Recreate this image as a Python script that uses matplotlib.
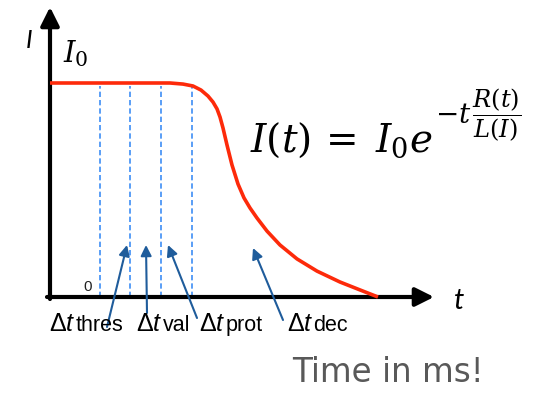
import numpy as np
import matplotlib
matplotlib.use("Agg")
import matplotlib.pyplot as plt

# current curve (t in ms-ish units, I relative to I0)
t_curve = [0.0, 3.636, 4.030, 4.333, 4.576, 4.788, 4.939, 5.061, 5.152, 5.242,
           5.364, 5.515, 5.697, 5.879, 6.061, 6.273, 6.576, 6.970, 7.485,
           8.091, 8.788, 9.394, 9.939]
i_curve = [1.0, 1.0, 0.995, 0.986, 0.967, 0.939, 0.911, 0.879, 0.841, 0.790,
           0.710, 0.617, 0.528, 0.463, 0.416, 0.369, 0.308, 0.243, 0.178,
           0.121, 0.070, 0.033, 0.0]

# dashed phase boundaries
t_marks = [1.52, 2.42, 3.36, 4.30]

# phase label suffixes
phase_names = ["thres", "val", "prot", "dec"]

plt.rcParams["mathtext.fontset"] = "custom"
plt.rcParams["mathtext.rm"] = "Liberation Sans"
plt.rcParams["mathtext.it"] = "Liberation Sans:italic"

W, H = 550, 393
fig = plt.figure(figsize=(W / 100, H / 100), dpi=100)
ax = fig.add_axes([0, 0, 1, 1])

# pixel -> data helpers (origin at px (50, 297))
sx, sy = 33.0, 214.0
def px(x, y):
    return ((x - 50) / sx, (297 - y) / sy)

ax.set_xlim(px(0, 0)[0], px(W, 0)[0])
ax.set_ylim(px(0, H)[1], px(0, 0)[1])
ax.axis("off")

# axes with arrow heads
arrow_kw = dict(arrowstyle="-|>", lw=3.0, color="black", mutation_scale=28,
                shrinkA=0, shrinkB=0)
ax.annotate("", xy=px(434, 297), xytext=px(47, 297), arrowprops=arrow_kw)
ax.annotate("", xy=px(50, 7), xytext=px(50, 299), arrowprops=arrow_kw)

# dashed lines
ax.vlines(t_marks, 0, 0.985, colors="#3d8ef5", lw=1.2,
          linestyles=(0, (3.2, 1.8)), zorder=2)

# curve
ax.plot(t_curve, i_curve, color="#fd2a0a", lw=2.6, solid_capstyle="butt",
        solid_joinstyle="round", zorder=3)

# labels on axes
ax.text(*px(26, 48), "I", fontsize=18, family="Lato", style="italic",
        va="baseline", ha="left")
ax.text(*px(454, 309), "t", fontsize=21, family="Lato", style="italic",
        va="baseline", ha="left")
ax.text(*px(83, 291), "0", fontsize=11, family="Liberation Sans",
        color="#222222", va="baseline", ha="left")
ax.text(*px(63, 62), r"$I_0$", fontsize=21, math_fontfamily="dejavuserif",
        va="baseline", ha="left")

# formula: base, raised "-t" and the fraction
base = ax.text(*px(250, 152), r"$I(t)\,=\;I_0 e$", fontsize=28,
               math_fontfamily="dejavuserif", va="baseline", ha="left")
sup = ax.annotate(r"$-t$", xy=(1, px(0, 123)[1]), xycoords=(base, "data"),
                  xytext=(2, 0), textcoords="offset points", fontsize=20,
                  math_fontfamily="dejavuserif", va="baseline", ha="left")
ax.annotate(r"$\dfrac{R(t)}{L(I)}$", xy=(1, px(0, 122)[1]),
            xycoords=(sup, "data"), xytext=(0.5, 0), textcoords="offset points",
            fontsize=17.5, math_fontfamily="dejavuserif", va="baseline", ha="left")

# phase labels and arrows
label_x = [49, 136, 199, 287]
tips = [(127, 245), (146, 245), (168, 245), (253, 248)]
tails = [(107, 327), (147, 313), (197, 318), (283, 320)]
akw = dict(arrowstyle="-|>", lw=1.5, color="#1f5c9b", mutation_scale=16,
           shrinkA=0, shrinkB=0)
for name, lx, tip, tail in zip(phase_names, label_x, tips, tails):
    ax.annotate("", xy=px(*tip), xytext=px(*tail), arrowprops=akw)
    x0, y0 = px(lx, 331)
    t1 = ax.text(x0, y0, r"Δ$t$", fontsize=18, family="Liberation Sans",
                 va="baseline", ha="left")
    ax.annotate(name, xy=(1, y0), xycoords=(t1, "data"), fontsize=15.5,
                family="Liberation Sans", va="baseline", ha="left")

ax.text(*px(292, 382), "Time in ms!", fontsize=23.5, family="DejaVu Sans",
        color="#595959", va="baseline", ha="left")

fig.savefig("out.png", dpi=100)
